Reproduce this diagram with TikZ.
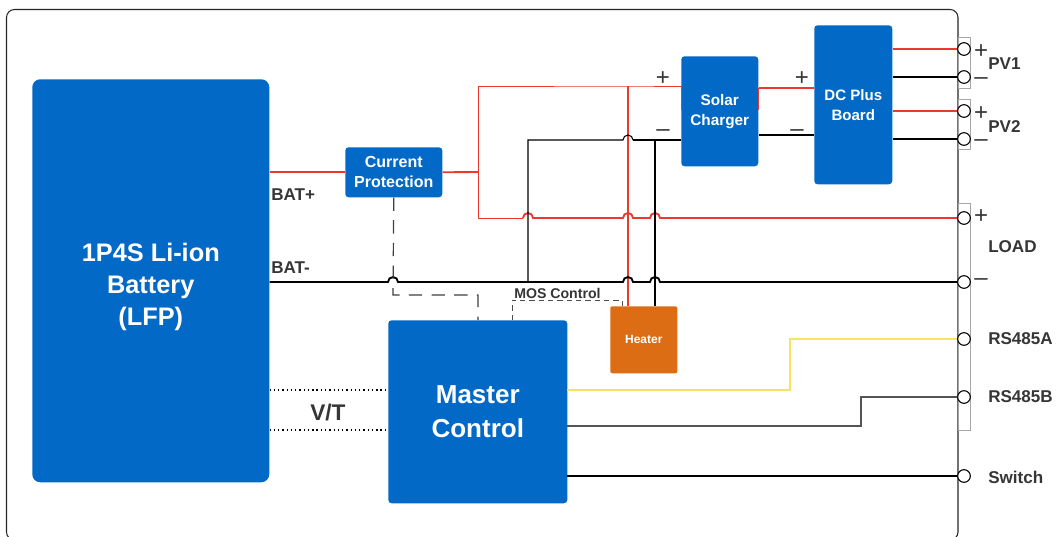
\documentclass[tikz,border=0pt]{standalone}
\usepackage{fontspec}
\setmainfont{Liberation Sans}
\definecolor{bblue}{HTML}{0369C6}
\definecolor{bor}{HTML}{DC6D14}
\definecolor{bred}{HTML}{EA3A2E}
\definecolor{byel}{HTML}{F7E264}
\definecolor{bgrey}{HTML}{555555}
\definecolor{btxt}{HTML}{363636}
\newcommand{\fs}[2]{\fontsize{#1}{#2}\selectfont\bfseries}
\tikzset{
  px/.style={x=0.75pt,y=-0.75pt},
  block/.style={fill=bblue,rounded corners=2.5pt,inner sep=0pt,text=white,align=center,anchor=north west},
  heatbox/.style={fill=bor,rounded corners=1.5pt,inner sep=0pt,text=white,align=center,anchor=north west},
  term/.style={circle,draw=black,fill=white,line width=0.8pt,minimum size=9.5pt,inner sep=0pt},
  lab/.style={text=btxt,inner sep=0pt,anchor=west,font=\fs{12.8}{15}},
  sign/.style={text=btxt,inner sep=0pt,font=\fontsize{18}{18}\selectfont},
  redthick/.style={draw=bred,line width=1.4pt},
  redthin/.style={draw=bred,line width=0.7pt},
  blkthick/.style={draw=black,line width=1.4pt},
  blkthin/.style={draw=black,line width=0.8pt},
  bracket/.style={draw=gray!70,line width=0.6pt},
  dotline/.style={draw=black,line width=0.8pt,dash pattern=on 1pt off 2.2pt},
  dashA/.style={draw=black!75,line width=0.9pt,dash pattern=on 10pt off 7pt},
  dashB/.style={draw=black!70,line width=0.65pt,dash pattern=on 4pt off 3pt},
}
\begin{document}
\begin{tikzpicture}[px]
\useasboundingbox (0,0) rectangle (1061,536);
\fill[white] (0,0) rectangle (1061,536);
% outer frame
\draw[black!85,line width=0.8pt,rounded corners=6pt] (6.5,9.5) rectangle (958,540);
% connector brackets
\draw[bracket] (958,37) rectangle (970,88);
\draw[bracket] (958,99) rectangle (970,149);
\draw[bracket] (958,203) rectangle (970,430);
% blocks
\node[block,minimum width=177.75pt,minimum height=302.25pt,rounded corners=6pt,font=\fs{19}{24}] (bat) at (32,79) {\rule{0pt}{22.5pt}1P4S Li-ion\\Battery\\(LFP)};
\node[block,minimum width=72.75pt,minimum height=37.5pt,font=\fs{12}{15}] (cp) at (345,147) {Current\\Protection};
\node[block,minimum width=57.75pt,minimum height=82.5pt,font=\fs{11.5}{15}] (sc) at (681,56) {Solar\\Charger};
\node[block,minimum width=58.5pt,minimum height=119.25pt,font=\fs{11.3}{15}] (dc) at (814,25) {DC Plus\\Board};
\node[block,minimum width=134.25pt,minimum height=137.25pt,font=\fs{19.5}{25.5}] (mc) at (388,320) {Master\\Control};
\node[heatbox,minimum width=50.25pt,minimum height=50.25pt,font=\fs{9}{10}] (ht) at (610,306) {Heater};
% terminals
\foreach \n/\y in {p1a/49,p1b/77,p2a/111,p2b/139,la/218,lb/282,rsa/339,rsb/397,sw/476}{
  \node[term] (\n) at (964,\y) {};
}
% junction coordinates
\coordinate (busT) at (478,86);
\coordinate (busM) at (478,172);
\coordinate (busB) at (478,218);
\coordinate (negT) at (528,140);
\coordinate (negB) at (528,282);
\coordinate (rv) at (628,86);
\coordinate (bv) at (655,140);
% wires red
\draw[redthick] (bat.east |- cp.west) -- (cp.west);
\draw[redthick] (cp.east) -- (busM);
\draw[redthin] (busM) -- (busT) -- (rv) -- (sc.west |- rv);
\draw[redthin] (busM) -- (busB) -- (523,218);
\draw[redthin] (sc.west |- rv) -- (681,110);
\draw[redthin] (758,88) -- (758,110);
\draw[redthick] (523,218) arc (180:360:5) -- (623,218) arc (180:360:5) -- (650,218) arc (180:360:5) -- (la.west);
\draw[redthick] (rv) -- (ht.north -| rv);
\draw[redthick] (sc.east |- 0,88) -- (dc.west |- 0,88);
\draw[redthick] (dc.east |- p1a) -- (p1a.west);
\draw[redthick] (dc.east |- p2a) -- (p2a.west);
% wires black
\draw[blkthick] (bat.east |- negB) -- (388,282) arc (180:360:5) -- (623,282) arc (180:360:5) -- (650,282) arc (180:360:5) -- (lb.west);
\draw[blkthin] (negB) -- (negT) -- (623,140) arc (180:360:5);
\draw[blkthick] (633,140) -- (sc.west |- bv);
\draw[blkthick] (bv) -- (ht.north -| bv);
\draw[blkthick] (sc.east |- 0,135) -- (dc.west |- 0,135);
\draw[blkthick] (dc.east |- p1b) -- (p1b.west);
\draw[blkthick] (dc.east |- p2b) -- (p2b.west);
\draw[blkthick] (567,476) -- (sw.west);
% signals
\draw[draw=byel,line width=1.2pt] (567,390) -- (790,390) -- (790,339) -- (rsa.west);
\draw[draw=bgrey,line width=1pt] (567,426) -- (861,426) -- (861,397) -- (rsb.west);
\draw[dotline] (bat.east |- 0,390) -- (mc.west |- 0,390);
\draw[dotline] (bat.east |- 0,430) -- (mc.west |- 0,430);
\draw[dashA] (cp.south) -- (393,295) -- (478,295) -- (478,320);
\draw[dashB] (512,320) -- (512,300) -- (622,300) -- (622,306);
% labels
\node[lab] (lbp) at (271,195) {BAT+};
\node[lab] (lbm) at (271,268) {BAT-};
\node[lab,font=\fs{17}{20}] (vt) at (310,413) {V/T};
\node[lab,font=\fs{10.6}{12}] (mos) at (514,293) {MOS Control};
\node[lab] (l1) at (988,64) {PV1};
\node[lab] (l2) at (988,127) {PV2};
\node[lab] (l3) at (988,247) {LOAD};
\node[lab] (l4) at (988,339) {RS485A};
\node[lab] (l5) at (988,397) {RS485B};
\node[lab] (l6) at (988,477) {Switch};
% polarity signs
\foreach \n/\x/\y/\t in {s1/663/79/+,s2/802/79/+,s3/981/52/+,s4/981/114/+,s5/981/217/+,
  s6/663/133/--,s7/797/133/--,s8/981/81/--,s9/981/143/--,s10/981/282/--}{
  \node[sign] (\n) at (\x,\y) {\t};
}
\end{tikzpicture}
\end{document}
